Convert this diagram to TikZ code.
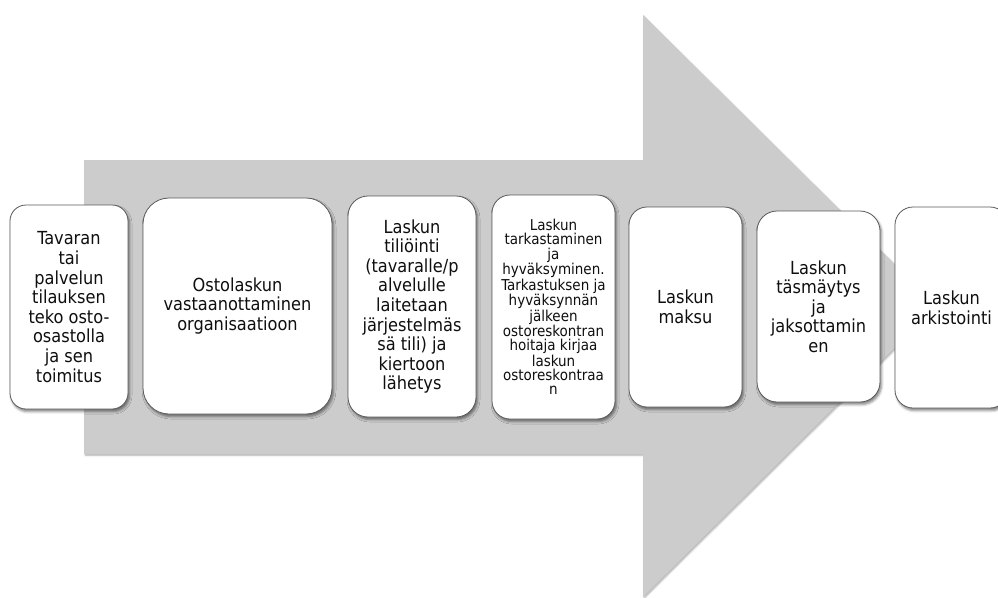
\documentclass[tikz,border=0pt]{standalone}
\usepackage{fontspec}
\setmainfont{DejaVu Sans Condensed}
\usetikzlibrary{shadows.blur}
\definecolor{arrowgray}{RGB}{204,204,204}
\definecolor{boxline}{RGB}{90,90,90}
\definecolor{txt}{RGB}{15,15,15}
\tikzset{
  stepbox/.style={draw=boxline, line width=0.8pt, fill=white, rectangle,
    inner sep=0pt, align=center, text=txt,
    font=\fontsize{18}{19.6}\selectfont,
    blur shadow={shadow xshift=1.5pt, shadow yshift=-2.5pt, shadow blur radius=2.5pt, shadow opacity=50}},
  smalltext/.style={font=\fontsize{15}{14.2}\selectfont}
}
\begin{document}
\begin{tikzpicture}[x=1pt,y=-1pt]
\useasboundingbox (0,0) rectangle (998,597);
\clip (0,0) rectangle (998,597);
% big arrow
\fill[arrowgray, blur shadow={shadow xshift=1pt, shadow yshift=-1.5pt, shadow blur radius=1.5pt, shadow opacity=30}]
  (84,160) -- (643,160) -- (643,15) -- (937,306) -- (643,597) -- (643,454) -- (84,454) -- cycle;
% boxes
\node[stepbox, rounded corners=16pt, minimum width=118pt, minimum height=204pt] (b1) at (69,307)
  {Tavaran\\tai\\palvelun\\tilauksen\\teko osto-\\osastolla\\ja sen\\toimitus};
\node[stepbox, rounded corners=26pt, minimum width=189pt, minimum height=216pt] (b2) at (237.5,306)
  {Ostolaskun\\vastaanottaminen\\organisaatioon};
\node[stepbox, rounded corners=20pt, minimum width=128pt, minimum height=221pt] (b3) at (412,306.5)
  {Laskun\\tiliöinti\\(tavaralle/p\\alvelulle\\laitetaan\\järjestelmäs\\sä tili) ja\\kiertoon\\lähetys};
\node[stepbox, smalltext, rounded corners=18pt, minimum width=123pt, minimum height=224pt] (b4) at (553.5,307)
  {Laskun\\tarkastaminen\\ja\\hyväksyminen.\\Tarkastuksen ja\\hyväksynnän\\jälkeen\\ostoreskontran\\hoitaja kirjaa\\laskun\\ostoreskontraa\\n};
\node[stepbox, rounded corners=18pt, minimum width=113pt, minimum height=200pt] (b5) at (685.5,307)
  {Laskun\\maksu};
\node[stepbox, rounded corners=20pt, minimum width=123pt, minimum height=191pt] (b6) at (818.5,306.5)
  {Laskun\\täsmäytys\\ja\\jaksottamin\\en};
\node[stepbox, rounded corners=18pt, minimum width=113pt, minimum height=201pt] (b7) at (951.5,307.5)
  {Laskun\\arkistointi};
\end{tikzpicture}
\end{document}
